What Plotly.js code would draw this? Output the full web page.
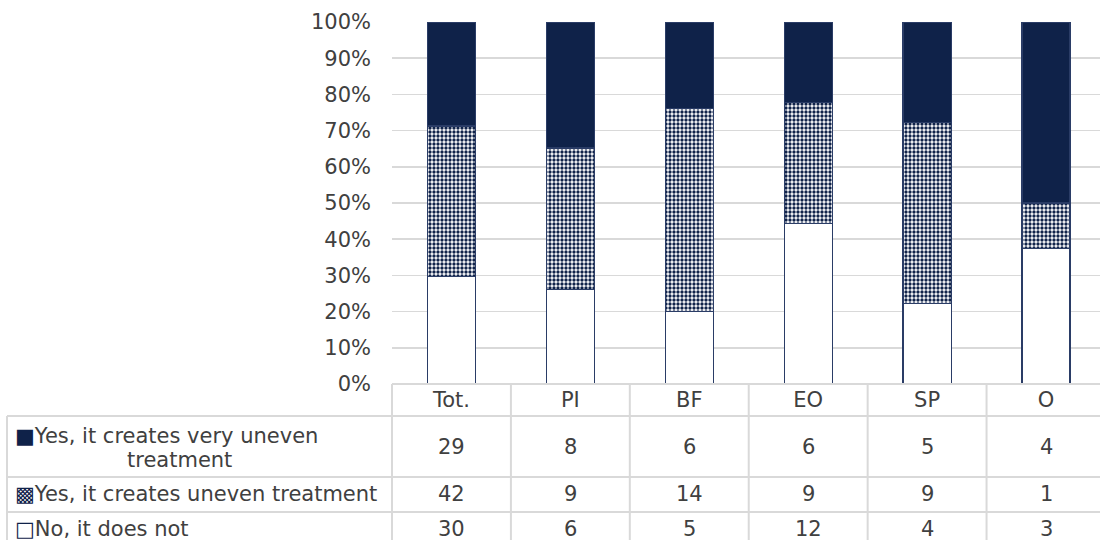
<!DOCTYPE html>
<html>
<head>
<meta charset="utf-8">
<script src="https://cdn.plot.ly/plotly-3.0.1.min.js"></script>
<style>html,body{margin:0;padding:0;background:#fff;}#chart{width:1100px;height:540px;}</style>
</head>
<body>
<div id="chart"></div>
<script>
// ---- data ----
var categories = ["Tot.", "PI", "BF", "EO", "SP", "O"];
var seriesNames = ["No, it does not", "Yes, it creates uneven treatment", "Yes, it creates very uneven treatment"];
var noValues = [30, 6, 5, 12, 4, 3];
var unevenValues = [42, 9, 14, 9, 9, 1];
var veryUnevenValues = [29, 8, 6, 6, 5, 4];
var yTickValues = [0, 10, 20, 30, 40, 50, 60, 70, 80, 90, 100];
var yTickLabels = ["0%", "10%", "20%", "30%", "40%", "50%", "60%", "70%", "80%", "90%", "100%"];

// ---- style ----
var NAVY = "#0f2249";
var EDGE = "#2a3c66";
var TXT = "#404040";
var GRID = "#d9d9d9";
var FONT = "DejaVu Sans, Verdana, sans-serif";
var FS = 21;

var W = 1100, H = 540, L = 392, T = 22, B = 156;
var plotW = W - L, plotH = H - T - B;
function py(p) { return (H - B - p) / plotH; }
function px(p) { return (p - L) / plotW; }

var xIdx = categories.map(function (c, i) { return i; });

var traces = [
  {type: "bar", name: seriesNames[0], x: categories, y: noValues,
   marker: {color: "#ffffff", line: {color: EDGE, width: 1.2}}},
  {type: "bar", name: seriesNames[1], x: categories, y: unevenValues,
   marker: {color: "#ffffff", line: {color: EDGE, width: 1.2},
            pattern: {shape: ".", fgcolor: NAVY, bgcolor: "#ffffff", size: 4, solidity: 0.55}}},
  {type: "bar", name: seriesNames[2], x: categories, y: veryUnevenValues,
   marker: {color: NAVY, line: {color: EDGE, width: 1.2}}}
];
traces.forEach(function (t) { t.width = 0.404; t.hoverinfo = "skip"; });

// ---- table rows ----
var rowSeries = [2, 1, 0];
var rowValues = [veryUnevenValues, unevenValues, noValues];
var rowTextY = [447, 494, 529];
var rowSymbols = ["■", "▩", "□"];

var annotations = [];
rowValues.forEach(function (vals, r) {
  vals.forEach(function (v, j) {
    annotations.push({xref: "x", yref: "paper", x: xIdx[j], y: py(rowTextY[r]),
      text: String(v), showarrow: false, xanchor: "center", yanchor: "middle",
      font: {family: FONT, size: FS, color: TXT}});
  });
});

var sym = function (s) { return "<span style='color:" + NAVY + "'>" + s + "</span>"; };
var firstName = seriesNames[rowSeries[0]];
var cut = firstName.lastIndexOf(" ");
annotations.push({xref: "paper", yref: "paper", x: px(13), y: py(436), xanchor: "left", yanchor: "middle",
  text: sym(rowSymbols[0]) + firstName.slice(0, cut), showarrow: false,
  font: {family: FONT, size: FS, color: TXT}});
annotations.push({xref: "paper", yref: "paper", x: px(179), y: py(460), xanchor: "center", yanchor: "middle",
  text: firstName.slice(cut + 1), showarrow: false,
  font: {family: FONT, size: FS, color: TXT}});
annotations.push({xref: "paper", yref: "paper", x: px(13), y: py(494), xanchor: "left", yanchor: "middle",
  text: sym(rowSymbols[1]) + seriesNames[rowSeries[1]], showarrow: false,
  font: {family: FONT, size: FS, color: TXT}});
annotations.push({xref: "paper", yref: "paper", x: px(13), y: py(529), xanchor: "left", yanchor: "middle",
  text: sym(rowSymbols[2]) + seriesNames[rowSeries[2]], showarrow: false,
  font: {family: FONT, size: FS, color: TXT}});

// ---- table grid ----
var shapes = [];
function hline(y, x0, x1) {
  shapes.push({type: "line", xref: "paper", yref: "paper", x0: px(x0), x1: px(x1), y0: py(y), y1: py(y),
    line: {color: GRID, width: 2}});
}
function vlinePx(x, y0, y1) {
  shapes.push({type: "line", xref: "paper", yref: "paper", x0: px(x), x1: px(x), y0: py(y0), y1: py(y1),
    line: {color: GRID, width: 2}});
}
hline(H - B, L, W + 10);
hline(416, 7, W + 10);
hline(477, 7, W + 10);
hline(512, 7, W + 10);
vlinePx(7, 416, H + 10);
vlinePx(L, H - B, H + 10);
for (var k = 0; k < categories.length; k++) {
  shapes.push({type: "line", xref: "x", yref: "paper", x0: k + 0.5, x1: k + 0.5, y0: py(H - B), y1: py(H + 10),
    line: {color: GRID, width: 2}});
}

var layout = {
  width: W, height: H,
  margin: {l: L, r: 0, t: T, b: B, pad: 0},
  paper_bgcolor: "#ffffff", plot_bgcolor: "#ffffff",
  barmode: "stack", barnorm: "percent",
  showlegend: false,
  font: {family: FONT, size: FS, color: TXT},
  xaxis: {type: "category", range: [-0.5, 5.454], showgrid: false, zeroline: false, showline: false,
    ticks: "", ticklabelstandoff: 1, tickfont: {family: FONT, size: FS, color: TXT}, fixedrange: true},
  yaxis: {range: [0, 100], tickmode: "array", tickvals: yTickValues, ticktext: yTickLabels,
    showgrid: true, gridcolor: GRID, gridwidth: 1.5,
    zeroline: false, showline: false, ticks: "", ticklabelstandoff: 20,
    tickfont: {family: FONT, size: FS, color: TXT}, fixedrange: true},
  annotations: annotations,
  shapes: shapes
};

Plotly.newPlot("chart", traces, layout, {staticPlot: true, displayModeBar: false});
</script>
</body>
</html>
